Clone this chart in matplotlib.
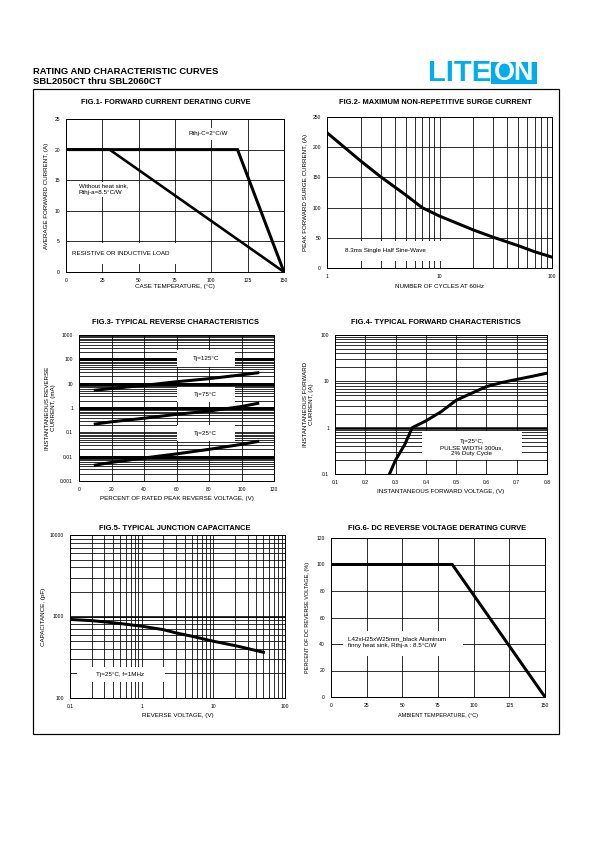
import numpy as np
import matplotlib.pyplot as plt
from matplotlib.patches import Rectangle

plt.rcParams['font.family'] = ['Liberation Sans', 'DejaVu Sans']

W, H = 595, 842

# Fig.1 forward current derating
f1_temp_rthjc = [0, 118, 150]
f1_curr_rthjc = [20, 20, 0]
f1_temp_rthja = [0, 30, 150]
f1_curr_rthja = [20, 20, 0]

# Fig.2 surge current
f2_cycles = [1, 2, 3, 5, 7, 10, 20, 30, 50, 70, 100]
f2_current = [224, 177, 151, 121, 100, 86, 63, 51, 37, 27, 18]

# Fig.3 reverse characteristics
f3_pct = [10, 20, 40, 60, 80, 100, 110]
f3_tj125 = [5.4, 6.3, 8.5, 12, 16, 23, 28]
f3_tj75 = [0.22, 0.27, 0.38, 0.55, 0.75, 1.15, 1.55]
f3_tj25 = [0.0045, 0.0058, 0.0088, 0.013, 0.02, 0.032, 0.042]

# Fig.4 forward characteristics
f4_volt = [0.28, 0.30, 0.33, 0.355, 0.40, 0.45, 0.50, 0.55, 0.60, 0.65, 0.70, 0.75, 0.80]
f4_curr = [0.1, 0.2, 0.43, 1.0, 1.4, 2.2, 3.9, 5.5, 7.7, 9.4, 11, 12.8, 15]

# Fig.5 junction capacitance
f5_volt = [0.1, 0.2, 0.3, 0.5, 1, 2, 3, 5, 10, 20, 50]
f5_cap = [920, 890, 860, 820, 760, 690, 630, 573, 497, 440, 364]

# Fig.6 DC reverse voltage derating
f6_temp = [0, 85, 150]
f6_pct = [100, 100, 0]

fig = plt.figure(figsize=(W / 72, H / 72), dpi=72)


def add_axes(x0, y0, x1, y1):
    ax = fig.add_axes([x0 / W, 1 - y1 / H, (x1 - x0) / W, (y1 - y0) / H])
    ax.tick_params(which='both', length=0, labelsize=5, pad=6)
    ax.set_axisbelow(True)
    for s in ax.spines.values():
        s.set_linewidth(1.0)
    return ax


def white_box(ax, x0, y0, x1, y1):
    ax.add_patch(Rectangle((x0, y0), x1 - x0, y1 - y0, transform=ax.transAxes,
                           facecolor='white', edgecolor='none', zorder=2))


def title(x, y, s):
    fig.text(x / W, 1 - y / H, s, fontsize=7.5, fontweight='bold', ha='center', va='center')


lab = dict(fontsize=6.3)
txt = dict(fontsize=6.2, zorder=3)

# header
fig.text(33 / W, 1 - 71 / H, 'RATING AND CHARACTERISTIC CURVES', fontsize=9.4, fontweight='bold', va='center')
fig.text(33 / W, 1 - 81.5 / H, 'SBL2050CT thru SBL2060CT', fontsize=9.4, fontweight='bold', va='center')
blue = '#00aeef'
fig.text(428 / W, 1 - 73 / H, 'LITE', fontsize=29, fontweight='bold', color=blue, va='center')
fig.patches.append(Rectangle((491 / W, 1 - 84 / H), 46 / W, 22 / H, transform=fig.transFigure,
                             facecolor=blue, edgecolor='none'))
fig.text(514 / W, 1 - 73 / H, 'ON', fontsize=27, fontweight='bold', color='white', va='center', ha='center')
fig.patches.append(Rectangle((33 / W, 1 - 734 / H), 526 / W, 645 / H, transform=fig.transFigure,
                             facecolor='none', edgecolor='black', lw=1.2))

# Fig.1
ax = add_axes(66, 119, 284, 272)
ax.set_xlim(0, 150)
ax.set_ylim(0, 25)
ax.set_xticks(np.arange(0, 151, 25))
ax.set_yticks(np.arange(0, 26, 5))
ax.grid(True, color='black', lw=0.8)
white_box(ax, 0.539, 0.862, 0.753, 0.939)
white_box(ax, 0.043, 0.491, 0.295, 0.59)
white_box(ax, 0.008, 0.055, 0.57, 0.19)
ax.plot(f1_temp_rthjc, f1_curr_rthjc, color='black', lw=3, zorder=4, solid_joinstyle='miter')
ax.plot(f1_temp_rthja, f1_curr_rthja, color='black', lw=2.6, zorder=4)
ax.text(0.653, 0.906, 'Rthj-C=2°C/W', transform=ax.transAxes, ha='center', va='center', **txt)
ax.text(0.058, 0.541, 'Without heat sink,\nRthj-a=8.5°C/W', transform=ax.transAxes, va='center', linespacing=1.5, **txt)
ax.text(0.027, 0.12, 'RESISTIVE OR INDUCTIVE LOAD', transform=ax.transAxes, va='center', **txt)
ax.set_xlabel('CASE TEMPERATURE, (°C)', labelpad=1, **lab)
ax.set_ylabel('AVERAGE FORWARD CURRENT, (A)', labelpad=5, **lab)
title(166, 102, 'FIG.1- FORWARD CURRENT DERATING CURVE')

# Fig.2
ax = add_axes(327, 117, 552, 268)
ax.set_xscale('log')
ax.set_xlim(1, 100)
ax.set_ylim(0, 250)
ax.set_xticks([1, 10, 100])
ax.set_xticklabels(['1', '10', '100'])
ax.set_yticks(np.arange(0, 251, 50))
ax.xaxis.set_minor_formatter(plt.NullFormatter())
ax.grid(True, which='both', color='black', lw=0.8)
white_box(ax, 0.0, 0.044, 0.578, 0.176)
ax.plot(f2_cycles, f2_current, color='black', lw=3, zorder=4)
ax.text(0.08, 0.116, '8.3ms Single Half Sine-Wave', transform=ax.transAxes, va='center', **txt)
ax.set_xlabel('NUMBER OF CYCLES AT 60Hz', labelpad=5, **lab)
ax.set_ylabel('PEAK FORWARD SURGE CURRENT, (A)', labelpad=5, **lab)
title(435, 102, 'FIG.2- MAXIMUM NON-REPETITIVE SURGE CURRENT')

# Fig.3
ax = add_axes(79, 335, 274, 481)
ax.set_yscale('log')
ax.set_xlim(0, 120)
ax.set_ylim(0.001, 1000)
ax.set_xticks(np.arange(0, 121, 20))
ax.set_yticks([0.001, 0.01, 0.1, 1, 10, 100, 1000])
ax.set_yticklabels(['0.001', '0.01', '0.1', '1', '10', '100', '1000'])
ax.yaxis.set_minor_formatter(plt.NullFormatter())
ax.grid(True, which='both', axis='y', color='black', lw=0.8)
ax.grid(True, which='major', axis='x', color='black', lw=0.8)
for yv in [0.01, 1, 10, 100]:
    ax.axhline(yv, color='black', lw=3, zorder=1)
white_box(ax, 0.5, 0.783, 0.8, 0.897)
white_box(ax, 0.5, 0.538, 0.8, 0.645)
white_box(ax, 0.5, 0.272, 0.8, 0.382)
for ys in [f3_tj125, f3_tj75, f3_tj25]:
    ax.plot(f3_pct, ys, color='black', lw=3, zorder=4)
ax.text(0.65, 0.84, 'Tj=125°C', transform=ax.transAxes, ha='center', va='center', **txt)
ax.text(0.65, 0.59, 'Tj=75°C', transform=ax.transAxes, ha='center', va='center', **txt)
ax.text(0.65, 0.327, 'Tj=25°C', transform=ax.transAxes, ha='center', va='center', **txt)
ax.set_xlabel('PERCENT OF RATED PEAK REVERSE VOLTAGE, (V)', labelpad=4, **lab)
ax.set_ylabel('INSTANTANEOUS REVERSE\nCURRENT, (mA)', labelpad=4, **lab)
title(175, 322, 'FIG.3- TYPICAL REVERSE CHARACTERISTICS')

# Fig.4
ax = add_axes(335, 335, 547, 474)
ax.set_yscale('log')
ax.set_xlim(0.1, 0.8)
ax.set_ylim(0.1, 100)
ax.set_xticks(np.round(np.arange(0.1, 0.81, 0.1), 1))
ax.set_yticks([0.1, 1, 10, 100])
ax.set_yticklabels(['0.1', '1', '10', '100'])
ax.yaxis.set_minor_formatter(plt.NullFormatter())
ax.grid(True, which='both', axis='y', color='black', lw=0.8)
ax.grid(True, which='major', axis='x', color='black', lw=0.8)
ax.axhline(1, color='black', lw=2.5, zorder=1)
white_box(ax, 0.409, 0.103, 0.882, 0.306)
ax.plot(f4_volt, f4_curr, color='black', lw=3, zorder=4)
ax.text(0.646, 0.191, 'Tj=25°C,\nPULSE WIDTH 300us,\n2% Duty Cycle', transform=ax.transAxes,
        ha='center', va='center', linespacing=1.3, **txt)
ax.set_xlabel('INSTANTANEOUS FORWARD VOLTAGE, (V)', labelpad=4, **lab)
ax.set_ylabel('INSTANTANEOUS FORWARD\nCURRENT, (A)', labelpad=7, **lab)
title(436, 322, 'FIG.4- TYPICAL FORWARD CHARACTERISTICS')

# Fig.5
ax = add_axes(70, 535, 285, 698)
ax.set_xscale('log')
ax.set_yscale('log')
ax.set_xlim(0.1, 100)
ax.set_ylim(100, 10000)
ax.set_xticks([0.1, 1, 10, 100])
ax.set_xticklabels(['0.1', '1', '10', '100'])
ax.set_yticks([100, 1000, 10000])
ax.set_yticklabels(['100', '1000', '10000'])
ax.xaxis.set_minor_formatter(plt.NullFormatter())
ax.yaxis.set_minor_formatter(plt.NullFormatter())
ax.grid(True, which='both', color='black', lw=0.8)
ax.axhline(1000, color='black', lw=1.6, zorder=1)
white_box(ax, 0.031, 0.098, 0.442, 0.19)
ax.plot(f5_volt, f5_cap, color='black', lw=3, zorder=4)
ax.text(0.233, 0.145, 'Tj=25°C, f=1MHz', transform=ax.transAxes, ha='center', va='center', **txt)
ax.set_xlabel('REVERSE VOLTAGE, (V)', labelpad=4, **lab)
ax.set_ylabel('CAPACITANCE, (pF)', labelpad=4, **lab)
title(175, 529, 'FIG.5- TYPICAL JUNCTION CAPACITANCE')

# Fig.6
ax = add_axes(331, 538, 545, 697)
ax.set_xlim(0, 150)
ax.set_ylim(0, 120)
ax.set_xticks(np.arange(0, 151, 25))
ax.set_yticks(np.arange(0, 121, 20))
ax.grid(True, color='black', lw=0.8)
white_box(ax, 0.058, 0.256, 0.618, 0.413)
ax.plot(f6_temp, f6_pct, color='black', lw=3, zorder=4)
ax.text(0.081, 0.346, 'L42xH25xW25mm_black Aluminum\nfinny heat sink, Rthj-a : 8.5°C/W',
        transform=ax.transAxes, va='center', linespacing=1.4, **txt)
ax.set_xlabel('AMBIENT TEMPERATURE, (°C)', labelpad=5, fontsize=5.5)
ax.set_ylabel('PERCENT OF DC REVERSE VOLTAGE, (%)', labelpad=7, fontsize=5.5)
title(437, 529, 'FIG.6- DC REVERSE VOLTAGE DERATING CURVE')

fig.savefig('out.png', dpi=72)
